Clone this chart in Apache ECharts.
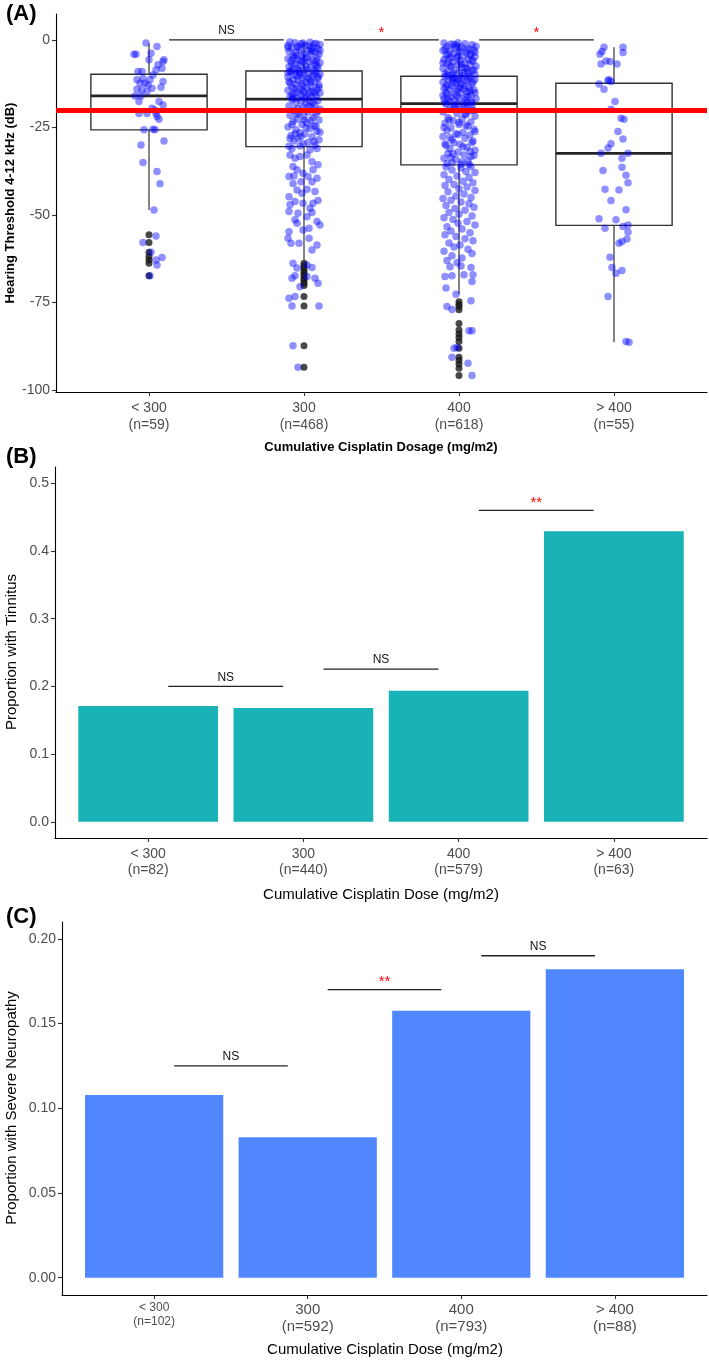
<!DOCTYPE html>
<html><head><meta charset="utf-8">
<script src="https://cdn.jsdelivr.net/npm/echarts@6/dist/echarts.min.js"></script>
<style>html,body{margin:0;padding:0;background:#fff}#c{width:709px;height:1360px}</style>
</head><body><div id="c"></div>
<script>
// ---------------- DATA ----------------
const categories = ['< 300', '300', '400', '> 400'];
const nHearing = [59, 468, 618, 55];
const nTinnitus = [82, 440, 579, 63];
const nNeuropathy = [102, 592, 793, 88];

// Panel A: box statistics (dB)
const whiskerTop = [-1.0, -0.6, -0.8, -2.1];
const hingeTop = [-9.8, -8.9, -10.4, -12.4];
const medians = [-16.0, -16.9, -18.2, -32.4];
const hingeBottom = [-25.7, -30.5, -35.7, -53.0];
const whiskerBottom = [-48.6, -62.9, -72.7, -86.4];

// Panel A: boxplot outliers (dB)
const outliersLt300 = [-55.7, -57.9, -60.7, -61.9, -62.9, -63.8, -67.4];
const outliers300 = [-63.8, -64.5, -65.2, -66.0, -66.7, -67.4, -68.1, -68.8, -69.5, -70.2, -73.3, -76.0, -87.4, -93.5];
const outliers400 = [-74.8, -75.5, -76.2, -77.1, -81.0, -82.9, -84.0, -85.0, -86.2, -88.1, -90.7, -91.6, -92.6, -93.8, -95.9];
const outliersGt400 = [];

// Panel A: jittered observations [jitter offset (1/155 of a category), dB]
const pointsLt300 = [[-3,-0.9],[8,-1.9],[-15,-4.1],[-13,-4.1],[2,-3.8],[0,-5.7],[15,-5.7],[14,-6.2],[9,-7.1],[7,-8.6],[13,-8.1],[-11,-9],[-7,-9],[4,-10],[-6,-11],[-12,-11.4],[1,-11.4],[14,-11.9],[-9,-12.4],[-4,-12.4],[-1,-12.9],[3,-13.8],[-12,-14.1],[-7,-14.3],[-2,-14.8],[12,-13.5],[-14,-16],[-8,-16],[-10,-17.6],[10,-17.6],[14,-18.6],[3,-19.5],[6,-20],[-10,-21],[-2,-21],[7,-21],[8,-21.9],[10,-22.7],[-5,-25.7],[4,-25.5],[6,-25.7],[15,-28.9],[-8,-30],[-6,-35],[8,-37.6],[11,-41.1],[5,-48.6],[7,-56],[-6,-57.9],[2,-60.7],[7,-62.9],[13,-62.2],[8,-64.3],[1,-67.4]];

const points300 = [
[-14,-0.6],[-9,-0.8],[-3,-1.1],[6,-0.7],[12,-1],[16,-1.3],[-16,-1.6],[-7,-1.9],[1,-1.5],[9,-2.2],[14,-2.5],[-12,-2.4],[-4,-2.8],[4,-3],[-15,-3.3],[11,-3.4],[-8,-3.6],[0,-3.9],[7,-4.1],[15,-4.2],[-11,-4.5],[-2,-4.7],[3,-5],[13,-5.1],[-16,-5.4],[-6,-5.6],[9,-5.8],[-13,-6],[5,-6.2],[-1,-6.4],[16,-6.5],[-9,-6.8],[11,-7],[-4,-7.2],[2,-7.4],[-15,-7.6],[7,-7.8],[14,-8],[-7,-8.2],[-11,-8.5],[0,-8.7],[10,-8.8],[-5,-2],[-10,-5.1],[8,-3.3],[-1,-0.9],[13,-7.4],[-14,-8.9],[5,-1.8],[-3,-6],[16,-3],[-12,-6.9],[3,-8.3],[-8,-4.4],[12,-6],[-5,-8.7],[7,-2.7],[-16,-2.2],[1,-5.3],[10,-1.2],
[-13,-9.1],[-5,-9.3],[4,-9.5],[12,-9.2],[16,-9.8],[-9,-10],[0,-10.2],[8,-10.4],[-16,-10.6],[-2,-10.9],[14,-11],[-11,-11.3],[6,-11.5],[-6,-11.7],[2,-12],[11,-12.2],[-14,-12.4],[-8,-12.7],[15,-12.9],[-1,-13.1],[7,-13.3],[-12,-13.5],[3,-13.7],[-4,-14],[13,-14.2],[-16,-14.4],[9,-14.6],[-7,-14.8],[0,-15],[16,-15.2],[-10,-15.4],[5,-15.6],[-3,-15.8],[12,-16],[-14,-16.2],[8,-16.4],[-6,-16.6],[1,-16.8],[-15,-11.9],[10,-9.9],[-9,-13.9],[14,-10.6],[-2,-12.5],[6,-14.9],[-12,-15.7],[4,-11.1],[-7,-10.3],[11,-15.1],[-4,-9.6],[2,-16.3],[15,-13.6],[-11,-16.7],[7,-12.1],[-1,-14.5],[-16,-9.4],
[-12,-17.1],[-3,-17.4],[6,-17.7],[14,-17.3],[-8,-18],[2,-18.3],[11,-18.6],[-15,-18.9],[-1,-19.2],[8,-19.5],[16,-19.8],[-10,-20.1],[4,-20.5],[-5,-20.8],[12,-21.1],[-14,-21.5],[0,-21.8],[9,-22.2],[-7,-22.6],[15,-22.9],[-11,-23.3],[3,-23.7],[-2,-24.1],[10,-24.5],[-16,-24.9],[6,-25.3],[-8,-25.7],[13,-26.1],[-4,-26.5],[1,-26.9],[-13,-27.3],[8,-27.7],[-6,-28.1],[15,-28.5],[-10,-28.9],[4,-29.3],[-1,-29.7],[11,-30.1],[-15,-30.4],[7,-23],[-9,-26.8],[14,-20.4],[-3,-27.6],[5,-18.9],[-12,-24.2],[10,-29],[-6,-19.6],[2,-25.1],[16,-26.4],[-14,-28.2],[0,-22.9],[9,-17.8],[-7,-21.3],[12,-24.7],[-4,-30.3],
[-12,-31],[6,-31.4],[13,-31],[-14,-32.9],[-9,-33.8],[-4,-33.3],[3,-32.9],[8,-34.8],[14,-35.7],[-11,-36.2],[-7,-37.1],[-1,-38.1],[9,-37.1],[-15,-39],[-10,-38.9],[4,-39],[13,-39.5],[-3,-40.5],[-11,-41],[8,-40.5],[-7,-42.9],[3,-42.7],[-15,-44.8],[-2,-43.8],[11,-43.3],[-9,-46.2],[-1,-46.7],[14,-45.9],[-14,-47.1],[9,-46.7],[6,-48.1],[-6,-49.5],[-15,-49],[8,-49.3],[3,-50.5],[13,-51.9],[-9,-51.4],[-7,-52.4],[16,-52.9],[-1,-54.3],[5,-53.8],[-15,-54.8],[-16,-56.7],[-13,-58.1],[-5,-58.1],[5,-56.7],[13,-58.6],[8,-60],[-11,-63.8],[3,-64.3],[-7,-65.2],[8,-65],[-9,-67.4],[-12,-68.1],[3,-67.6],[11,-68.1],[14,-69.5],[-4,-70.5],[-15,-73.8],[-9,-73.3],[-12,-76],[15,-76],[-11,-87.4],[-6,-93.5]
];

const points400 = [
[-15,-0.9],[-8,-1.2],[-1,-0.8],[6,-1.1],[13,-1.4],[17,-1.8],[-12,-1.9],[-4,-2.2],[3,-2],[10,-2.5],[15,-2.9],[-16,-3],[-9,-3.2],[0,-3.4],[7,-3.6],[-5,-3.9],[12,-4.1],[-13,-4.3],[4,-4.6],[16,-4.8],[-2,-5],[-10,-5.3],[9,-5.5],[-15,-5.7],[1,-5.9],[14,-6.1],[-6,-6.3],[6,-6.6],[-12,-6.8],[-1,-7],[11,-7.2],[17,-7.5],[-8,-7.7],[3,-7.9],[-16,-8.1],[8,-8.3],[-4,-8.6],[13,-8.8],[-11,-9],[0,-9.3],[5,-9.5],[-14,-9.7],[16,-9.9],[-7,-10.1],[10,-10.3],[-3,-1.6],[8,-2.9],[-11,-4],[2,-6.9],[15,-8.6],[-6,-9.6],[-14,-2.6],[11,-4.4],[-9,-7.3],[4,-10.2],[-1,-4.7],[13,-5.8],[-16,-6.5],[6,-8],[-5,-1.3],[9,-9.2],[-12,-10.1],[1,-2.7],[16,-3.5],[-8,-5.1],
[-14,-10.6],[-6,-10.8],[3,-11],[11,-10.7],[16,-11.3],[-10,-11.5],[-1,-11.7],[7,-11.9],[-16,-12.1],[-3,-12.4],[13,-12.6],[-12,-12.8],[5,-13],[-7,-13.2],[1,-13.5],[10,-13.7],[-15,-13.9],[-9,-14.1],[15,-14.3],[-2,-14.6],[8,-14.8],[-13,-15],[2,-15.2],[-5,-15.4],[12,-15.7],[-16,-15.9],[9,-16.1],[-8,-16.3],[0,-16.6],[17,-16.8],[-11,-17],[6,-17.2],[-4,-17.4],[13,-17.7],[-14,-17.9],[4,-18.1],[-7,-11.1],[14,-12],[-1,-13.9],[-12,-15.5],[7,-16.4],[-4,-10.9],[11,-14.5],[-15,-16.9],[2,-12.7],[9,-11.4],[-9,-17.6],[16,-15.1],[-2,-16],[5,-14],[-6,-12.2],[12,-17.9],[-13,-13.4],[0,-11.2],[8,-18],
[-13,-18.4],[-4,-18.8],[5,-19.1],[13,-18.6],[-9,-19.5],[1,-19.9],[10,-20.3],[-16,-20.6],[-2,-21],[7,-21.4],[16,-21.8],[-11,-22.2],[3,-22.6],[-6,-23],[12,-23.4],[-14,-23.8],[0,-24.2],[9,-24.7],[-8,-25.1],[15,-25.5],[-12,-25.9],[4,-26.4],[-3,-26.8],[11,-27.2],[-16,-27.6],[6,-28.1],[-7,-28.5],[14,-28.9],[-5,-29.4],[1,-29.8],[-13,-30.2],[8,-30.7],[-9,-31.1],[16,-31.5],[-1,-32],[-11,-32.4],[5,-32.9],[12,-33.3],[-15,-33.8],[-3,-34.2],[9,-34.6],[-7,-35.1],[2,-35.5],[14,-20.1],[-10,-22.9],[7,-24.4],[-1,-27],[-14,-29.7],[11,-31.8],[3,-34.9],[-5,-19.3],[16,-26.2],[-8,-33.5],[6,-21.2],[-12,-35.3],[0,-23.6],[13,-29.3],[-15,-25],[4,-30.5],[-6,-32.6],[10,-35.6],[-2,-18.3],[15,-33],[-9,-27.9],[8,-19.7],
[-13,-36.3],[2,-36.6],[12,-36.2],[-7,-37.2],[7,-37.6],[16,-37.9],[-15,-38.5],[-2,-38.9],[10,-39.3],[-10,-39.9],[4,-40.4],[14,-40.8],[-5,-41.3],[-14,-41.6],[8,-42],[0,-42.5],[16,-43],[-11,-43.4],[5,-44],[-3,-44.6],[12,-45],[-16,-45.3],[-8,-45.8],[2,-46.3],[10,-46.8],[-13,-47.3],[15,-47.8],[-4,-48.2],[6,-48.7],[-10,-49.3],[0,-49.8],[13,-50.3],[-15,-50.8],[-6,-51.3],[8,-51.9],[-1,-52.4],[16,-52.9],[-12,-53.4],[3,-54],[-8,-54.6],[11,-55.1],[-14,-55.7],[-3,-56.2],[6,-56.8],[14,-57.4],[-10,-58],[1,-58.6],[-5,-59.2],[9,-59.8],[-15,-60.4],[13,-61],[-7,-61.7],[3,-62.3],[-12,-63],[-2,-63.7],
[-9,-64.8],[2,-64.6],[12,-65],[5,-67.1],[14,-67.1],[-14,-67.6],[-7,-67.4],[13,-69],[-13,-70.9],[-3,-72.7],[12,-74.5],[-12,-76.2],[-7,-77],[10,-83.1],[13,-83.1],[-5,-88.1],[-2,-87.9],[-7,-90.7],[9,-92.4],[13,-95.9]
];

const pointsGt400 = [[-10,-2.1],[9,-2.1],[-12,-3.3],[9,-3.6],[-14,-4.1],[-8,-6],[-4,-6.2],[-13,-6.9],[3,-6.9],[-5,-11.4],[-6,-11.6],[-3,-11.9],[-15,-12.6],[-10,-14.1],[1,-17.6],[-3,-19.8],[7,-22.4],[10,-22.7],[4,-26.2],[9,-28.3],[-3,-29.7],[-6,-30.9],[-13,-32.4],[14,-32.4],[8,-33.8],[8,-36.4],[-11,-37.3],[12,-38.7],[14,-40.8],[-9,-42.7],[5,-42.9],[-3,-45.9],[12,-48.5],[-15,-51.1],[2,-51.4],[-9,-53.8],[9,-53.3],[14,-52.9],[14,-54.9],[5,-58.1],[8,-57.6],[13,-56.9],[-4,-62.1],[-2,-65],[2,-66.7],[8,-65.9],[-6,-73.3],[12,-86.2],[15,-86.4]];

const thresholdDb = -20;

// Panels B and C
const tinnitusProportion = [0.171, 0.168, 0.1935, 0.429];
const neuropathyProportion = [0.1078, 0.0829, 0.1576, 0.182];

// Significance brackets between consecutive groups
const sigALabels = ['NS', '*', '*'];
const sigAY = [0, 0, 0];
const sigBLabels = ['NS', 'NS', '**'];
const sigBY = [0.2, 0.2255, 0.46];
const sigCLabels = ['NS', '**', 'NS'];
const sigCY = [0.125, 0.17, 0.19];

// Tick values
const yTicksA = [-100, -75, -50, -25, 0];
const yTicksB = [0, 0.1, 0.2, 0.3, 0.4, 0.5];
const yTicksC = [0, 0.05, 0.10, 0.15, 0.20];
const xTicks = [0, 1, 2, 3];

// ---------------- CHART ----------------
const FONT = '"Liberation Sans", Arial, Helvetica, sans-serif';
const JITTER_UNIT = 155;
const chart = echarts.init(document.getElementById('c'), null, {renderer: 'canvas'});

function xAxisDef(gridIndex, fmt, extraLabel) {
  return {
    type: 'value', gridIndex, min: -0.6, max: 3.6,
    axisLine: {show: true, onZero: false, lineStyle: {color: '#000', width: 1.1}},
    axisTick: {show: true, customValues: xTicks, length: 4, lineStyle: {color: '#333', width: 1.1}},
    splitLine: {show: false},
    axisLabel: Object.assign({customValues: xTicks, color: '#4D4D4D', fontFamily: FONT, fontSize: 14, lineHeight: 16, margin: 8, formatter: fmt}, extraLabel || {})
  };
}
function yAxisDef(gridIndex, min, max, ticks, fmt, fs) {
  return {
    type: 'value', gridIndex, min, max,
    axisLine: {show: true, onZero: false, lineStyle: {color: '#000', width: 1.1}},
    axisTick: {show: true, customValues: ticks, length: 4, lineStyle: {color: '#333', width: 1.1}},
    splitLine: {show: false},
    axisLabel: {customValues: ticks, color: '#4D4D4D', fontFamily: FONT, fontSize: fs, margin: 6, formatter: fmt}
  };
}

function jitter(points, idx) { return points.map(p => [idx + p[0] / JITTER_UNIT, p[1]]); }
function outl(vals, idx) { return vals.map(v => [idx, v]); }

function renderBox(params, api) {
  const i = api.value(0);
  const half = 0.375;
  const wTop = api.coord([i, api.value(5)]);
  const hTopC = api.coord([i, api.value(4)]);
  const hBotC = api.coord([i, api.value(2)]);
  const wBot = api.coord([i, api.value(1)]);
  const tl = api.coord([i - half, api.value(4)]);
  const br = api.coord([i + half, api.value(2)]);
  const mL = api.coord([i - half, api.value(3)]);
  const mR = api.coord([i + half, api.value(3)]);
  const ls = {stroke: '#333', lineWidth: 1.2};
  return {type: 'group', children: [
    {type: 'line', shape: {x1: wTop[0], y1: wTop[1], x2: hTopC[0], y2: hTopC[1]}, style: ls},
    {type: 'line', shape: {x1: hBotC[0], y1: hBotC[1], x2: wBot[0], y2: wBot[1]}, style: ls},
    {type: 'rect', shape: {x: tl[0], y: tl[1], width: br[0] - tl[0], height: br[1] - tl[1]}, style: {fill: '#fff', stroke: '#333', lineWidth: 1.4}},
    {type: 'line', shape: {x1: mL[0], y1: mL[1], x2: mR[0], y2: mR[1]}, style: {stroke: '#262626', lineWidth: 2.8}}
  ]};
}

function makeBarRenderer(color) {
  return function (params, api) {
    const i = api.value(0);
    const tl = api.coord([i - 0.45, api.value(1)]);
    const br = api.coord([i + 0.45, 0]);
    return {type: 'rect', shape: {x: tl[0], y: tl[1], width: br[0] - tl[0], height: br[1] - tl[1]}, style: {fill: color}};
  };
}

function makeSigRenderer(labels) {
  return function (params, api) {
    const i = api.value(0);
    const y = api.value(1);
    const a = api.coord([i + 0.13, y]);
    const b = api.coord([i + 0.87, y]);
    const lab = labels[params.dataIndex];
    const isNS = lab === 'NS';
    return {type: 'group', children: [
      {type: 'line', shape: {x1: a[0], y1: a[1], x2: b[0], y2: b[1]}, style: {stroke: '#222', lineWidth: 1.4}},
      {type: 'text', style: {text: lab, x: (a[0] + b[0]) / 2, y: a[1] - (isNS ? 3 : 0), align: 'center', verticalAlign: 'bottom',
        fill: isNS ? '#111' : '#FF0000', fontSize: isNS ? 12 : 15, fontFamily: FONT}}
    ]};
  };
}

const fmtA = v => { const i = Math.round(v); return categories[i] + '\n(n=' + nHearing[i] + ')'; };
const fmtB = v => { const i = Math.round(v); return categories[i] + '\n(n=' + nTinnitus[i] + ')'; };
const fmtC = v => { const i = Math.round(v); const s = i === 0 ? 's' : 'b'; return '{' + s + '|' + categories[i] + '}\n{' + s + '|(n=' + nNeuropathy[i] + ')}'; };

const blue = 'rgba(0,0,255,0.55)';
const scatterCommon = {type: 'scatter', xAxisIndex: 0, yAxisIndex: 0, symbolSize: 7.5, itemStyle: {color: blue}, z: 4, silent: true};

const option = {
  animation: false,
  backgroundColor: '#fff',
  grid: [
    {left: 56, top: 14, width: 651, height: 378},
    {left: 55, top: 467, width: 652, height: 371},
    {left: 62, top: 922, width: 645, height: 373}
  ],
  xAxis: [
    xAxisDef(0, fmtA, {lineHeight: 17}),
    xAxisDef(1, fmtB, {lineHeight: 16}),
    xAxisDef(2, fmtC, {margin: 6, rich: {
      s: {fontSize: 12, lineHeight: 13.5, color: '#4D4D4D', fontFamily: FONT},
      b: {fontSize: 15, lineHeight: 17, color: '#4D4D4D', fontFamily: FONT}
    }})
  ],
  yAxis: [
    yAxisDef(0, -100.6, 7.4, yTicksA, v => String(v), 14),
    yAxisDef(1, -0.024, 0.524, yTicksB, v => v.toFixed(1), 14),
    yAxisDef(2, -0.0102, 0.2099, yTicksC, v => v.toFixed(2), 14)
  ],
  graphic: [
    {type: 'text', left: 6, top: 3, style: {text: '(A)', font: 'bold 22px ' + FONT, fill: '#000'}},
    {type: 'text', left: 6, top: 446, style: {text: '(B)', font: 'bold 22px ' + FONT, fill: '#000'}},
    {type: 'text', left: 6, top: 906, style: {text: '(C)', font: 'bold 22px ' + FONT, fill: '#000'}},
    {type: 'text', x: 381, y: 447, style: {text: 'Cumulative Cisplatin Dosage (mg/m2)', font: 'bold 13px ' + FONT, fill: '#000', align: 'center', verticalAlign: 'middle'}},
    {type: 'text', x: 381, y: 895, style: {text: 'Cumulative Cisplatin Dose (mg/m2)', font: '15px ' + FONT, fill: '#000', align: 'center', verticalAlign: 'middle'}},
    {type: 'text', x: 385, y: 1350, style: {text: 'Cumulative Cisplatin Dose (mg/m2)', font: '15px ' + FONT, fill: '#000', align: 'center', verticalAlign: 'middle'}},
    {type: 'text', x: 10, y: 203, rotation: Math.PI / 2, style: {text: 'Hearing Threshold 4-12 kHz (dB)', font: 'bold 13px ' + FONT, fill: '#000', align: 'center', verticalAlign: 'middle'}},
    {type: 'text', x: 12, y: 652, rotation: Math.PI / 2, style: {text: 'Proportion with Tinnitus', font: '15px ' + FONT, fill: '#000', align: 'center', verticalAlign: 'middle'}},
    {type: 'text', x: 12, y: 1108, rotation: Math.PI / 2, style: {text: 'Proportion with Severe Neuropathy', font: '15px ' + FONT, fill: '#000', align: 'center', verticalAlign: 'middle'}}
  ],
  series: [
    {type: 'custom', xAxisIndex: 0, yAxisIndex: 0, renderItem: renderBox, z: 1, silent: true,
      data: categories.map((c, i) => [i, whiskerBottom[i], hingeBottom[i], medians[i], hingeTop[i], whiskerTop[i]])},
    {type: 'scatter', xAxisIndex: 0, yAxisIndex: 0, symbolSize: 7, itemStyle: {color: '#1A1A1A'}, z: 2, silent: true,
      data: [].concat(outl(outliersLt300, 0), outl(outliers300, 1), outl(outliers400, 2), outl(outliersGt400, 3))},
    Object.assign({}, scatterCommon, {data: jitter(pointsLt300, 0)}),
    Object.assign({}, scatterCommon, {data: jitter(points300, 1)}),
    Object.assign({}, scatterCommon, {data: jitter(points400, 2)}),
    Object.assign({}, scatterCommon, {data: jitter(pointsGt400, 3)}),
    {type: 'line', xAxisIndex: 0, yAxisIndex: 0, data: [], z: 6, silent: true,
      markLine: {silent: true, symbol: ['none', 'none'], label: {show: false}, animation: false,
        lineStyle: {color: '#FF0000', width: 5, type: 'solid'}, data: [{yAxis: thresholdDb}]}},
    {type: 'custom', xAxisIndex: 0, yAxisIndex: 0, z: 7, silent: true, renderItem: makeSigRenderer(sigALabels),
      data: sigAY.map((y, i) => [i, y])},
    {type: 'custom', xAxisIndex: 1, yAxisIndex: 1, z: 2, silent: true, renderItem: makeBarRenderer('#19B2B7'),
      data: tinnitusProportion.map((v, i) => [i, v])},
    {type: 'custom', xAxisIndex: 1, yAxisIndex: 1, z: 3, silent: true, renderItem: makeSigRenderer(sigBLabels),
      data: sigBY.map((y, i) => [i, y])},
    {type: 'custom', xAxisIndex: 2, yAxisIndex: 2, z: 2, silent: true, renderItem: makeBarRenderer('#5087FF'),
      data: neuropathyProportion.map((v, i) => [i, v])},
    {type: 'custom', xAxisIndex: 2, yAxisIndex: 2, z: 3, silent: true, renderItem: makeSigRenderer(sigCLabels),
      data: sigCY.map((y, i) => [i, y])}
  ]
};
chart.setOption(option);
</script></body></html>
